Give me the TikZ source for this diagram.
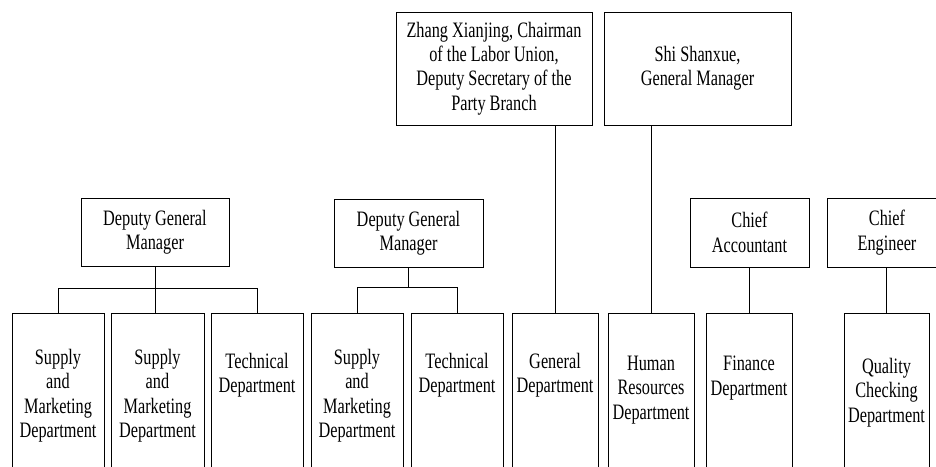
\documentclass[tikz,border=0pt]{standalone}
\usepackage{fontspec}
\setmainfont[FakeStretch=0.74]{Liberation Serif}
\begin{document}
\begin{tikzpicture}[x=1pt,y=-1pt,
  txt/.style={font=\fontsize{22}{24.3}\selectfont, align=center},
  box/.style={draw, line width=1pt, inner sep=0pt, txt},
  dept/.style={draw, line width=1pt, inner sep=0pt, anchor=north, minimum height=170pt},
  depttext/.style={txt, anchor=north, inner sep=0pt},
  link/.style={line width=1pt}
]
\useasboundingbox (0,0) rectangle (936,466);
\clip (0,0) rectangle (936,466);

% top management
\node[box, minimum width=196pt, minimum height=113pt] (zhang) at (494,68.5)
  {Zhang Xianjing, Chairman\\of the Labor Union,\\Deputy Secretary of the\\Party Branch};
\node[box, minimum width=187pt, minimum height=113pt] (shi) at (697.5,68.5)
  {Shi Shanxue,\\General Manager};

% second level
\node[box, minimum width=148pt, minimum height=68pt] (dgm1) at (155,232) {Deputy General\\Manager};
\node[box, minimum width=149pt, minimum height=68pt] (dgm2) at (408.5,233) {Deputy General\\Manager};
\node[box, minimum width=119pt, minimum height=69pt] (ca) at (749.5,232.5) {Chief\\Accountant};
\node[box, minimum width=120pt, minimum height=69pt] (ce) at (887,232.5) {Chief\\Engineer};

% departments
\node[dept, minimum width=92pt] (sm1) at (58,313) {};
\node[dept, minimum width=93pt] (sm2) at (157.5,313) {};
\node[dept, minimum width=92pt] (td1) at (257,313) {};
\node[dept, minimum width=92pt] (sm3) at (357,313) {};
\node[dept, minimum width=92pt] (td2) at (457,313) {};
\node[dept, minimum width=86pt] (gd)  at (555,313) {};
\node[dept, minimum width=86pt] (hr)  at (651,313) {};
\node[dept, minimum width=86pt] (fd)  at (749,313) {};
\node[dept, minimum width=85pt] (qc)  at (886.5,313) {};

\node[depttext] (sm1t) at (58,349) {Supply\\and\\Marketing\\Department};
\node[depttext] (sm2t) at (157.5,349) {Supply\\and\\Marketing\\Department};
\node[depttext] (td1t) at (257,353) {Technical\\Department};
\node[depttext] (sm3t) at (357,349) {Supply\\and\\Marketing\\Department};
\node[depttext] (td2t) at (457,353) {Technical\\Department};
\node[depttext] (gdt)  at (555,353) {General\\Department};
\node[depttext] (hrt)  at (651,356) {Human\\Resources\\Department};
\node[depttext] (fdt)  at (749,356) {Finance\\Department};
\node[depttext] (qct)  at (886.5,358) {Quality\\Checking\\Department};

% connectors
\coordinate (bus1) at (0,288);
\coordinate (bus2) at (0,287);
\draw[link] (dgm1.south) -- (dgm1.south |- sm2.north);
\draw[link] (sm1.north) -- (sm1.north |- bus1) -| (td1.north);
\draw[link] (dgm2.south) -- (dgm2.south |- bus2);
\draw[link] (sm3.north) -- (sm3.north |- bus2) -| (td2.north);
\draw[link] (zhang.south -| gd.north) -- (gd.north);
\draw[link] (shi.south -| hr.north) -- (hr.north);
\draw[link] (ca.south -| fd.north) -- (fd.north);
\draw[link] (ce.south -| qc.north) -- (qc.north);
\end{tikzpicture}
\end{document}
